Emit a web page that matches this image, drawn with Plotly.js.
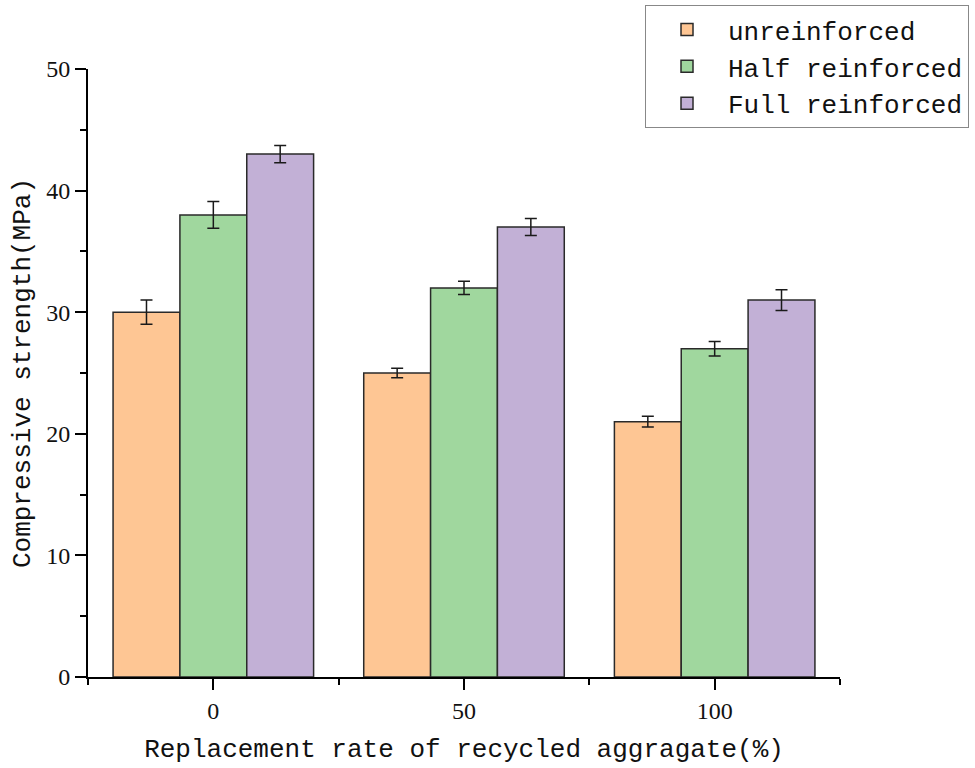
<!DOCTYPE html>
<html>
<head>
<meta charset="utf-8">
<script src="https://cdn.plot.ly/plotly-3.0.1.min.js"></script>
<style>html,body{margin:0;padding:0;background:#fff;}#chart{width:975px;height:768px;}</style>
</head>
<body>
<div id="chart"></div>
<script>
const categories = ['0', '50', '100'];
const categoryPos = [0, 1, 2];
const seriesNames = ['unreinforced', 'Half reinforced', 'Full reinforced'];
const unreinforced = [30, 25, 21];
const unreinforcedErr = [1.0, 0.4, 0.45];
const halfReinforced = [38, 32, 27];
const halfReinforcedErr = [1.1, 0.55, 0.6];
const fullReinforced = [43, 37, 31];
const fullReinforcedErr = [0.7, 0.7, 0.85];
const colors = ['rgb(254,198,148)', 'rgb(160,215,158)', 'rgb(194,176,214)'];
const yTicks = [0, 10, 20, 30, 40, 50];

const titleFont = {family: '"Liberation Mono", "DejaVu Sans Mono", monospace', size: 26, color: '#111'};
const tickFont = {family: '"Liberation Serif", "DejaVu Serif", serif', size: 24, color: '#111'};

function mk(name, vals, errs, color) {
  return {
    type: 'bar', name: name, x: categoryPos, y: vals,
    marker: {color: color, line: {color: '#2a2a2a', width: 1.5}},
    error_y: {type: 'data', array: errs, visible: true, color: '#1a1a1a', thickness: 1.5, width: 6}
  };
}

const data = [
  mk(seriesNames[0], unreinforced, unreinforcedErr, colors[0]),
  mk(seriesNames[1], halfReinforced, halfReinforcedErr, colors[1]),
  mk(seriesNames[2], fullReinforced, fullReinforcedErr, colors[2])
];

const layout = {
  width: 975, height: 768,
  margin: {l: 88, r: 135, t: 69, b: 91, autoexpand: false},
  paper_bgcolor: '#fff', plot_bgcolor: '#fff',
  barmode: 'group', bargap: 0.2, bargroupgap: 0,
  showlegend: true,
  legend: {
    x: 0.7407, y: 1.105, xanchor: 'left', yanchor: 'top',
    font: {family: titleFont.family, size: 26, color: '#111'},
    bordercolor: '#888', borderwidth: 1, bgcolor: '#fff',
    itemwidth: 72, tracegroupgap: 0
  },
  xaxis: {
    range: [-0.5, 2.5], tickmode: 'array', tickvals: categoryPos, ticktext: categories,
    showgrid: false, zeroline: false, showline: true, linecolor: '#000', linewidth: 2,
    ticks: 'outside', ticklen: 11, tickwidth: 2, tickcolor: '#000',
    tickfont: tickFont,
    minor: {tickmode: 'linear', tick0: 0.5, dtick: 1, ticks: 'outside', ticklen: 6, tickwidth: 2, tickcolor: '#000', showgrid: false},
    title: {text: 'Replacement rate of recycled aggragate(%)\u00a0', font: titleFont, standoff: 16}
  },
  yaxis: {
    range: [0, 50], tickmode: 'array', tickvals: yTicks,
    showgrid: false, zeroline: false, showline: true, linecolor: '#000', linewidth: 2,
    ticks: 'outside', ticklen: 11, tickwidth: 2, tickcolor: '#000',
    tickfont: tickFont,
    minor: {tickmode: 'linear', tick0: 5, dtick: 10, ticks: 'outside', ticklen: 6, tickwidth: 2, tickcolor: '#000', showgrid: false},
    title: {text: 'Compressive strength(MPa)', font: titleFont, standoff: 8}
  }
};

Plotly.newPlot('chart', data, layout, {displayModeBar: false, staticPlot: true});
</script>
</body>
</html>
